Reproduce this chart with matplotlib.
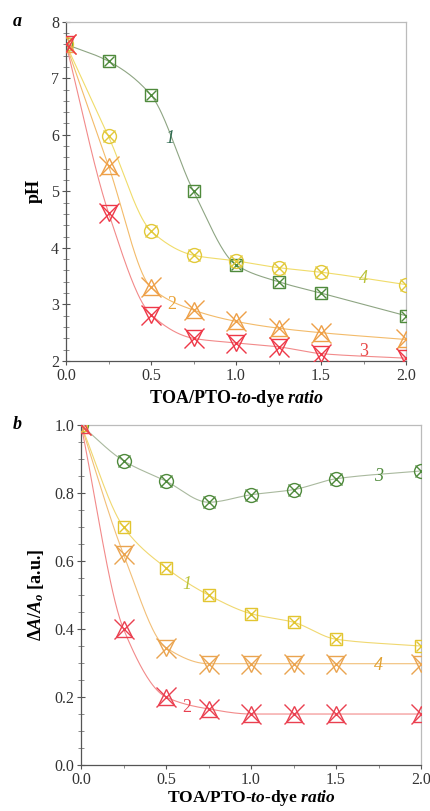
import numpy as np
import matplotlib
matplotlib.use("Agg")
import matplotlib.pyplot as plt

plt.rcParams['font.family'] = ['Liberation Serif', 'DejaVu Serif']
plt.rcParams['mathtext.fontset'] = 'custom'
plt.rcParams['mathtext.rm'] = 'Liberation Serif:bold'
plt.rcParams['mathtext.it'] = 'Liberation Serif:italic:bold'
plt.rcParams['mathtext.bf'] = 'Liberation Serif:bold'

# ---------------- data ----------------
x_ratio = [0.0, 0.25, 0.5, 0.75, 1.0, 1.25, 1.5, 2.0]

# panel a: pH
ph_s1 = [7.6, 7.3, 6.7, 5.0, 3.7, 3.4, 3.2, 2.8]
ph_s4 = [7.6, 5.97, 4.3, 3.87, 3.77, 3.65, 3.57, 3.35]
ph_s2 = [7.6, 5.45, 3.3, 2.9, 2.7, 2.58, 2.5, 2.38]
ph_s3 = [7.6, 4.62, 2.82, 2.4, 2.32, 2.25, 2.13, 2.05]

# panel b: dA/Ao
ab_s3 = [1.0, 0.895, 0.835, 0.773, 0.795, 0.81, 0.842, 0.865]
ab_s1 = [1.0, 0.70, 0.58, 0.50, 0.445, 0.42, 0.37, 0.35]
ab_s4 = [1.0, 0.62, 0.345, 0.298, 0.298, 0.298, 0.298, 0.298]
ab_s2 = [1.0, 0.40, 0.20, 0.165, 0.15, 0.15, 0.15, 0.15]

x_ticks = [0.0, 0.5, 1.0, 1.5, 2.0]
ph_ticks = [2, 3, 4, 5, 6, 7, 8]
ab_ticks = [0.0, 0.2, 0.4, 0.6, 0.8, 1.0]


def pchip(x, y, n=300):
    x = np.asarray(x, float); y = np.asarray(y, float)
    h = np.diff(x); d = np.diff(y) / h
    m = np.zeros_like(y)
    for k in range(1, len(x) - 1):
        if d[k - 1] * d[k] <= 0:
            m[k] = 0
        else:
            w1 = 2 * h[k] + h[k - 1]; w2 = h[k] + 2 * h[k - 1]
            m[k] = (w1 + w2) / (w1 / d[k - 1] + w2 / d[k])
    m[0] = d[0]; m[-1] = d[-1]
    xs = np.linspace(x[0], x[-1], n)
    idx = np.clip(np.searchsorted(x, xs) - 1, 0, len(x) - 2)
    t = (xs - x[idx]) / h[idx]
    h00 = 2 * t**3 - 3 * t**2 + 1; h10 = t**3 - 2 * t**2 + t
    h01 = -2 * t**3 + 3 * t**2; h11 = t**3 - t**2
    ys = h00 * y[idx] + h10 * h[idx] * m[idx] + h01 * y[idx + 1] + h11 * h[idx] * m[idx + 1]
    return xs, ys


def series(ax, x, y, lc, mc, base, bsize, xsize):
    xs, ys = pchip(x, y)
    ax.plot(xs, ys, color=lc, lw=0.8, zorder=2)
    ax.plot(x, y, ls='none', marker=base, ms=bsize, mfc='none', mec=mc, mew=1.0, zorder=3)
    ax.plot(x, y, ls='none', marker='x', ms=xsize, mec=mc, mew=1.0, zorder=3)


def style(ax):
    for s in ['left', 'bottom']:
        ax.spines[s].set_color('#555555')
        ax.spines[s].set_linewidth(0.9)
    for s in ['top', 'right']:
        ax.spines[s].set_color('#bbbbbb')
        ax.spines[s].set_linewidth(0.9)
    ax.tick_params(axis='y', which='major', direction='inout', length=6, width=0.8, color='#555555', labelsize=11.5, pad=2)
    ax.tick_params(axis='y', which='minor', direction='inout', length=4, width=0.6, color='#777777')
    ax.tick_params(axis='x', which='major', direction='out', length=3, width=0.8, color='#555555', labelsize=11.5, pad=2)
    ax.tick_params(axis='x', which='minor', direction='out', length=2.5, width=0.6, color='#777777')
    ax.set_xlim(0, 2)
    ax.set_xticks(x_ticks)
    ax.set_xticklabels([f"{v:.1f}" for v in x_ticks])
    ax.set_xticks(np.arange(0, 2.01, 0.25), minor=True)
    for lab in ax.get_xticklabels() + ax.get_yticklabels():
        lab.set_color('#333333')


fig = plt.figure(figsize=(4.30, 8.11), dpi=100)

# ---------------- panel a ----------------
axa = fig.add_axes([0.1535, 0.5549, 0.7907, 0.4184])
style(axa)
axa.set_ylim(2, 8)
axa.set_yticks(ph_ticks)
axa.set_yticklabels([str(v) for v in ph_ticks])
axa.set_yticks(np.arange(2, 8.01, 0.2), minor=True)

series(axa, x_ratio, ph_s1, '#8ea583', '#4f8a3c', 's', 8.5, 7)
series(axa, x_ratio, ph_s4, '#f0dc6a', '#e2c93a', 'o', 10, 8)
series(axa, x_ratio, ph_s2, '#f3bb6a', '#eea048', '^', 11, 14)
series(axa, x_ratio, ph_s3, '#f28a8a', '#ee3848', 'v', 11, 14)

axa.text(0.61, 5.93, '1', color='#2f6a50', fontsize=13, style='italic', ha='center', va='center')
axa.text(1.75, 3.45, '4', color='#b9c23a', fontsize=13, style='italic', ha='center', va='center')
axa.text(0.62, 2.99, '2', color='#e9a338', fontsize=13, ha='center', va='center')
axa.text(1.75, 2.16, '3', color='#e84848', fontsize=13, ha='center', va='center')

axa.set_ylabel('pH', fontsize=13, fontweight='bold', labelpad=6)
axa.set_xlabel(r'TOA/PTO-$\mathit{to}$-dye $\mathit{ratio}$', fontsize=13, fontweight='bold', labelpad=3)
fig.text(13 / 430, 1 - 22 / 811, 'a', fontsize=13, fontweight='bold', style='italic', ha='left', va='center')

# ---------------- panel b ----------------
axb = fig.add_axes([0.1884, 0.0567, 0.7907, 0.4192])
style(axb)
axb.set_ylim(0, 1)
axb.set_yticks(ab_ticks)
axb.set_yticklabels([f"{v:.1f}" for v in ab_ticks])
axb.set_yticks(np.arange(0, 1.001, 0.05), minor=True)

series(axb, x_ratio, ab_s3, '#a9b99e', '#4f8a3c', 'o', 10, 8)
series(axb, x_ratio, ab_s1, '#f0d870', '#e2c530', 's', 8.5, 7)
series(axb, x_ratio, ab_s4, '#f2bf78', '#eaa450', 'v', 11, 14)
series(axb, x_ratio, ab_s2, '#f28a8a', '#ea4050', '^', 11, 14)

axb.text(1.75, 0.85, '3', color='#4f8a3c', fontsize=13, style='italic', ha='center', va='center')
axb.text(0.62, 0.53, '1', color='#b9c23a', fontsize=13, style='italic', ha='center', va='center')
axb.text(1.75, 0.294, '4', color='#e0a030', fontsize=13, style='italic', ha='center', va='center')
axb.text(0.62, 0.17, '2', color='#e84050', fontsize=13, ha='center', va='center')

axb.set_ylabel(r'$\mathit{\Delta A/A_o}$ [a.u.]', fontsize=13, fontweight='bold', labelpad=6)
axb.set_xlabel(r'TOA/PTO-$\mathit{to}$-dye $\mathit{ratio}$', fontsize=12.5, fontweight='bold', labelpad=0)
fig.text(13 / 430, 1 - 425 / 811, 'b', fontsize=13, fontweight='bold', style='italic', ha='left', va='center')

fig.savefig('out.png', dpi=100)
